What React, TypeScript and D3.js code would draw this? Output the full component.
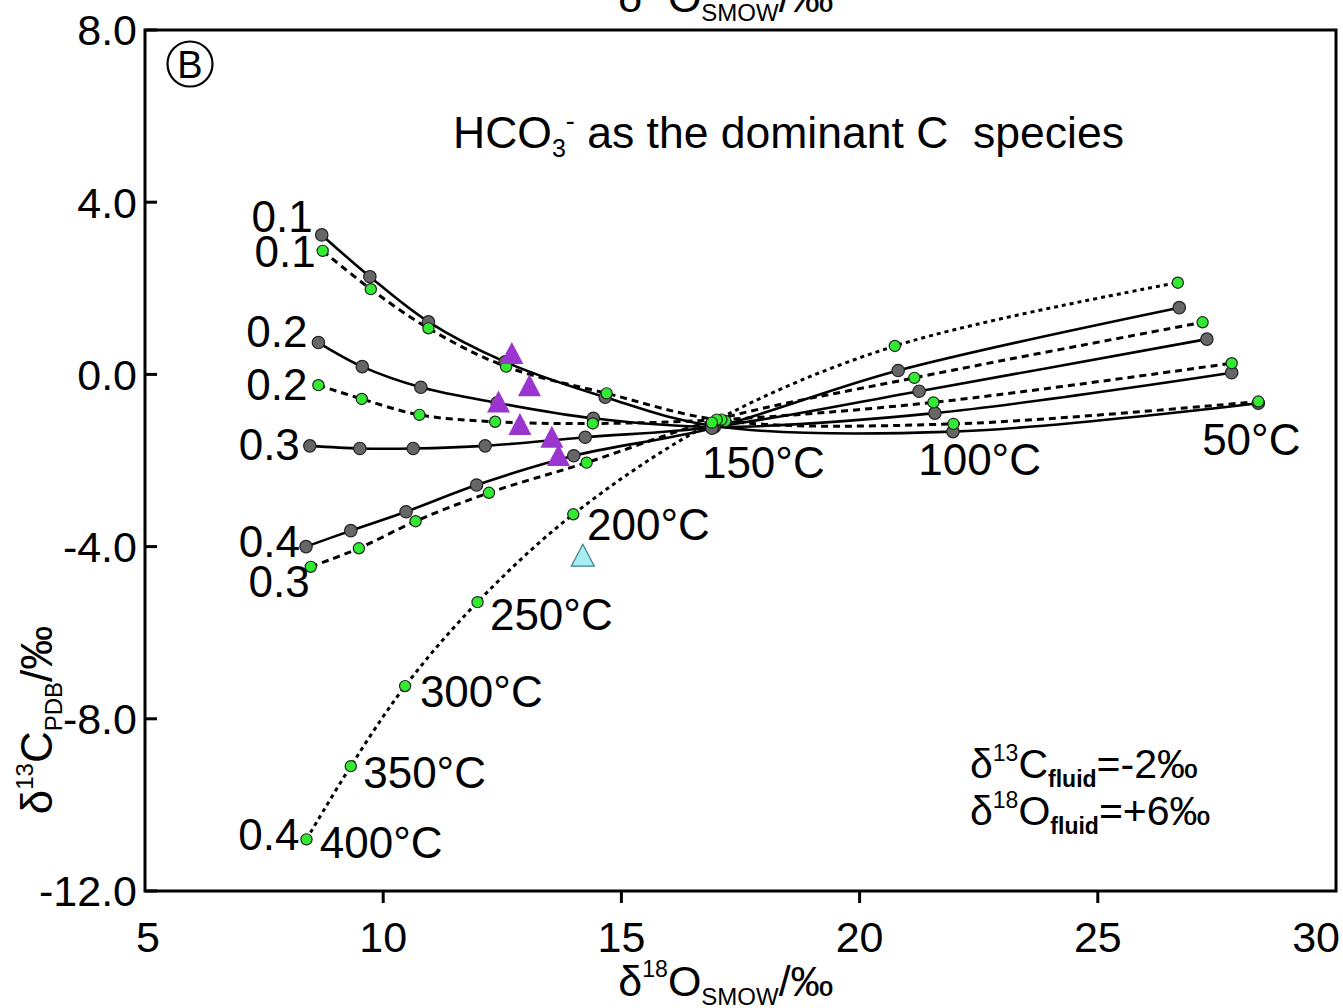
import React from "react";
import * as d3 from "d3";

// ---- data ----
const tempsC = [400, 350, 300, 250, 200, 150, 100, 50];

const gray01X = [8.71, 9.72, 10.95, 12.56, 14.66, 16.95, 21.96, 28.37];
const gray01Y = [3.24, 2.27, 1.22, 0.29, -0.53, -1.2, -1.33, -0.67];
const gray02X = [8.64, 9.56, 10.79, 12.39, 14.41, 16.95, 21.58, 27.81];
const gray02Y = [0.74, 0.18, -0.3, -0.66, -1.02, -1.22, -0.9, 0.04];
const gray03X = [8.46, 9.51, 10.63, 12.14, 14.24, 16.92, 21.25, 27.29];
const gray03Y = [-1.66, -1.72, -1.72, -1.66, -1.46, -1.22, -0.39, 0.82];
const gray04X = [8.38, 9.32, 10.48, 11.96, 14.0, 16.9, 20.81, 26.71];
const gray04Y = [-4.0, -3.63, -3.19, -2.57, -1.89, -1.25, 0.09, 1.55];

const green01X = [8.73, 9.74, 10.95, 12.58, 14.69, 17.18, 21.97, 28.37];
const green01Y = [2.87, 1.98, 1.07, 0.18, -0.44, -1.08, -1.15, -0.63];
const green02X = [8.64, 9.55, 10.76, 12.35, 14.4, 17.1, 21.55, 27.81];
const green02Y = [-0.25, -0.57, -0.94, -1.1, -1.14, -1.05, -0.65, 0.26];
const green03X = [8.48, 9.49, 10.68, 12.22, 14.27, 17.0, 21.15, 27.2];
const green03Y = [-4.47, -4.04, -3.41, -2.75, -2.05, -1.05, -0.08, 1.21];
const green04X = [8.39, 9.32, 10.46, 11.98, 13.99, 16.9, 20.74, 26.68];
const green04Y = [-10.8, -9.1, -7.24, -5.29, -3.25, -1.12, 0.66, 2.13];

const purpleX = [12.7, 13.07, 12.42, 12.87, 13.54, 13.68];
const purpleY = [0.5, -0.25, -0.63, -1.15, -1.45, -1.87];
const cyanX = [14.19];
const cyanY = [-4.2];

const tempLabels = ["400°C", "350°C", "300°C", "250°C", "200°C", "150°C", "100°C", "50°C"];
const tempLabelX = [8.67, 9.58, 10.77, 12.24, 14.28, 16.69, 21.23, 27.19];
const tempLabelY = [-11.23, -9.61, -7.73, -5.94, -3.85, -2.41, -2.34, -1.87];

const xTicks = [5, 10, 15, 20, 25, 30];
const yTicks = [8, 4, 0, -4, -8, -12];

// ---- layout ----
const W = 1343;
const H = 1008;
const L = 145, R = 1336, T = 30, B = 891;
const FONT = "'Liberation Sans', Arial, Helvetica, sans-serif";

const x = d3.scaleLinear().domain([5, 30]).range([L, R]);
const y = d3.scaleLinear().domain([-12, 8]).range([B, T]);

type Series = {
  name: string;
  xs: number[];
  ys: number[];
  kind: "gray" | "green";
  dash: string | null;
  labelDx: number;
  labelDy: number;
};

const series: Series[] = [
  { name: "0.1", xs: gray01X, ys: gray01Y, kind: "gray", dash: null, labelDx: -9, labelDy: -3 },
  { name: "0.2", xs: gray02X, ys: gray02Y, kind: "gray", dash: null, labelDx: -11, labelDy: 4 },
  { name: "0.3", xs: gray03X, ys: gray03Y, kind: "gray", dash: null, labelDx: -10, labelDy: 14 },
  { name: "0.4", xs: gray04X, ys: gray04Y, kind: "gray", dash: null, labelDx: -6, labelDy: 10 },
  { name: "0.1", xs: green01X, ys: green01Y, kind: "green", dash: "7,5", labelDx: -7, labelDy: 16 },
  { name: "0.2", xs: green02X, ys: green02Y, kind: "green", dash: "7,5", labelDx: -11, labelDy: 15 },
  { name: "0.3", xs: green03X, ys: green03Y, kind: "green", dash: "7,5", labelDx: -1, labelDy: 30 },
  { name: "0.4", xs: green04X, ys: green04Y, kind: "green", dash: "4,4", labelDx: -7, labelDy: 11 },
];

const line = d3
  .line<[number, number]>()
  .x((d) => x(d[0]))
  .y((d) => y(d[1]))
  .curve(d3.curveCatmullRom.alpha(0.5));

function triPath(cx: number, cy: number, w: number, h: number) {
  return `M${cx},${cy - h / 2}L${cx + w / 2},${cy + h / 2}L${cx - w / 2},${cy + h / 2}Z`;
}

function XLabel({ cx, by }: { cx: number; by: number }) {
  return (
    <text x={cx} y={by} fontSize={43} textAnchor="middle" fontFamily={FONT}>
      δ<tspan fontSize={23} dy={-19}>18</tspan>
      <tspan dy={19}>O</tspan>
      <tspan fontSize={24} dy={9}>SMOW</tspan>
      <tspan dy={-9}>/‰</tspan>
    </text>
  );
}

export default function App() {
  return (
    <svg
      width={W}
      height={H}
      viewBox={`0 0 ${W} ${H}`}
      style={{ position: "absolute", left: 0, top: 0, background: "#fff" }}
    >
      <rect x={0} y={0} width={W} height={H} fill="#fff" />

      {/* clipped top axis label */}
      <XLabel cx={726} by={12} />

      {/* frame */}
      <rect x={L} y={T} width={R - L} height={B - T} fill="none" stroke="#000" strokeWidth={3} />

      {/* y ticks */}
      {yTicks.map((t) => (
        <g key={"yt" + t}>
          <line x1={L} x2={L + 12} y1={y(t)} y2={y(t)} stroke="#000" strokeWidth={3} />
          <text
            x={L - 8}
            y={y(t)}
            dy="0.36em"
            textAnchor="end"
            fontSize={43}
            fontFamily={FONT}
          >
            {t.toFixed(1)}
          </text>
        </g>
      ))}

      {/* x ticks */}
      {xTicks.map((t) => (
        <g key={"xt" + t}>
          {t > 5 && t < 30 && (
            <line x1={x(t)} x2={x(t)} y1={B} y2={B + 12} stroke="#000" strokeWidth={3} />
          )}
          <text
            x={t === 30 ? x(t) + 4 : x(t) + (t === 5 ? 3 : 0)}
            y={952}
            textAnchor={t === 30 ? "end" : "middle"}
            fontSize={43}
            fontFamily={FONT}
          >
            {t}
          </text>
        </g>
      ))}

      {/* axis labels */}
      <XLabel cx={726} by={996} />
      <text
        transform="translate(52,720) rotate(-90)"
        fontSize={44}
        textAnchor="middle"
        fontFamily={FONT}
      >
        δ<tspan fontSize={24} dy={-19}>13</tspan>
        <tspan dy={19}>C</tspan>
        <tspan fontSize={24} dy={10}>PDB</tspan>
        <tspan dy={-10}>/‰</tspan>
      </text>

      {/* panel label */}
      <circle cx={190} cy={64} r={22.5} fill="none" stroke="#000" strokeWidth={2.2} />
      <text x={190} y={64} dy="0.36em" textAnchor="middle" fontSize={38} fontFamily={FONT}>
        B
      </text>

      {/* title */}
      <text x={453} y={148} fontSize={44.5} fontFamily={FONT} style={{ whiteSpace: "pre" }}>
        HCO<tspan fontSize={25} dy={9}>3</tspan>
        <tspan fontSize={27} dy={-27}>-</tspan>
        <tspan dy={18}>{" as the dominant C  species"}</tspan>
      </text>

      {/* lines */}
      {series.map((s, i) => (
        <path
          key={"l" + i}
          d={line(s.xs.map((v, j) => [v, s.ys[j]] as [number, number])) || ""}
          fill="none"
          stroke="#000"
          strokeWidth={s.kind === "gray" ? 2.6 : 3}
          strokeDasharray={s.dash || undefined}
        />
      ))}

      {/* points */}
      {series.map((s, i) =>
        s.xs.map((v, j) => (
          <circle
            key={"p" + i + "-" + tempsC[j]}
            cx={x(v)}
            cy={y(s.ys[j])}
            r={s.kind === "gray" ? 6.2 : 5.6}
            fill={s.kind === "gray" ? "#666666" : "#33ea33"}
            stroke="#222"
            strokeWidth={1.2}
          />
        ))
      )}

      {/* series labels */}
      {series.map((s, i) => (
        <text
          key={"sl" + i}
          x={x(s.xs[0]) + s.labelDx}
          y={y(s.ys[0]) + s.labelDy}
          textAnchor="end"
          fontSize={44}
          fontFamily={FONT}
        >
          {s.name}
        </text>
      ))}

      {/* temperature labels */}
      {tempLabels.map((t, i) => (
        <text key={"tl" + t} x={x(tempLabelX[i])} y={y(tempLabelY[i])} fontSize={44} fontFamily={FONT}>
          {t}
        </text>
      ))}

      {/* samples */}
      {purpleX.map((v, i) => (
        <path key={"pu" + i} d={triPath(x(v), y(purpleY[i]), 23, 22)} fill="#9b35cf" stroke="none" />
      ))}
      {cyanX.map((v, i) => (
        <path
          key={"cy" + i}
          d={triPath(x(v), y(cyanY[i]), 23, 22)}
          fill="#a6eef2"
          stroke="#3f7f8a"
          strokeWidth={1.2}
        />
      ))}

      {/* fluid composition */}
      <text x={970} y={778} fontSize={41} fontFamily={FONT}>
        δ<tspan fontSize={23} dy={-17}>13</tspan>
        <tspan dy={17}>C</tspan>
        <tspan fontSize={23} fontWeight="bold" dy={9}>fluid</tspan>
        <tspan dy={-9}>=-2‰</tspan>
      </text>
      <text x={970} y={825} fontSize={41} fontFamily={FONT}>
        δ<tspan fontSize={23} dy={-17}>18</tspan>
        <tspan dy={17}>O</tspan>
        <tspan fontSize={23} fontWeight="bold" dy={9}>fluid</tspan>
        <tspan dy={-9}>=+6‰</tspan>
      </text>
    </svg>
  );
}
